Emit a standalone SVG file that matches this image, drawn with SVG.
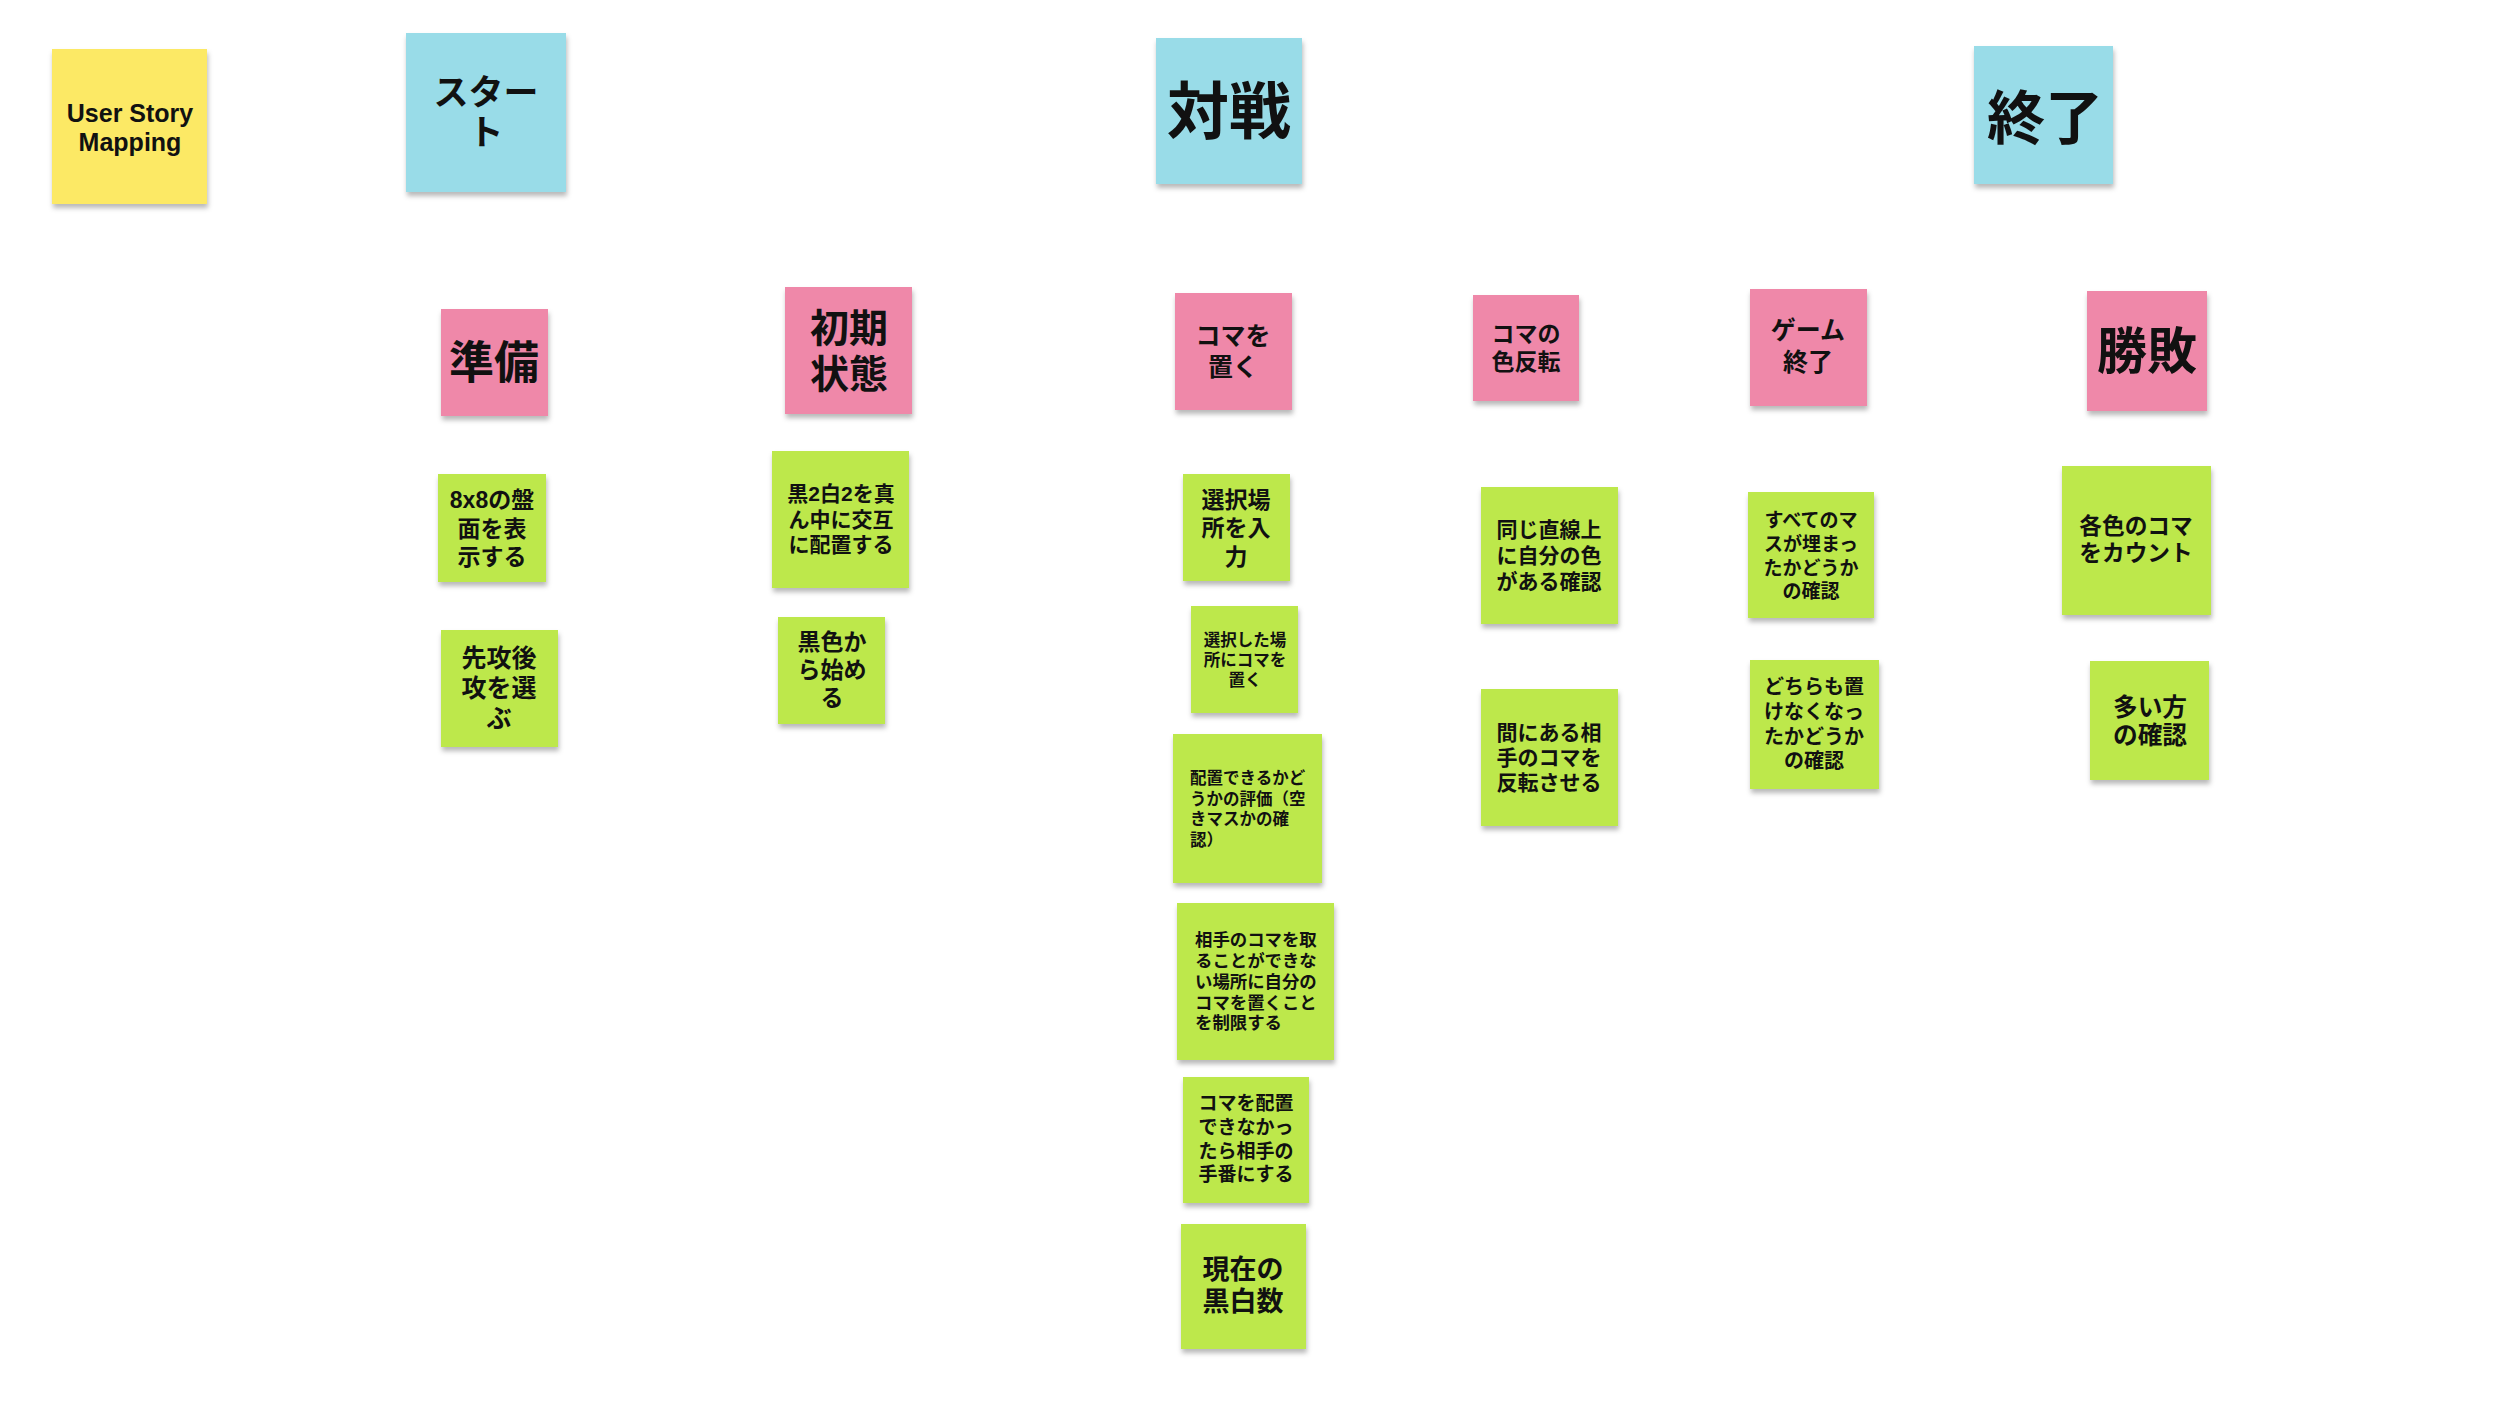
<svg xmlns="http://www.w3.org/2000/svg" width="2496" height="1414" viewBox="0 0 2496 1414">
<defs>
<filter id="sh" x="-10%" y="-10%" width="125%" height="130%">
<feDropShadow dx="1" dy="4" stdDeviation="2.5" flood-color="#000" flood-opacity="0.28"/>
</filter>
<style>
.y{fill:#FCE965;filter:url(#sh)}
.b{fill:#99DCE8;filter:url(#sh)}
.p{fill:#EF88A9;filter:url(#sh)}
.g{fill:#BDE84C;filter:url(#sh)}
text{font-family:"Liberation Sans","Noto Sans CJK JP",sans-serif;font-weight:700;fill:#111;text-anchor:middle;dominant-baseline:central}
.l{text-anchor:start}
</style>
</defs>
<rect width="2496" height="1414" fill="#fff"/>
<g id="connectors"/>

<g id="usm">
<rect class="y" x="52" y="49" width="155" height="155"/>
<text x="130" y="113" font-size="25">User Story</text>
<text x="130" y="142" font-size="25">Mapping</text>
</g>

<g id="start">
<rect class="b" x="406" y="33" width="160" height="159"/>
<text x="486" y="92" font-size="35">スター</text>
<text x="486" y="132" font-size="35">ト</text>
</g>

<g id="taisen">
<rect class="b" x="1156" y="38" width="146" height="146"/>
<text x="1229" y="112" font-size="62">対戦</text>
</g>

<g id="shuryo">
<rect class="b" x="1974" y="46" width="139" height="138"/>
<text x="2045" y="118" font-size="58">終了</text>
</g>

<g id="junbi">
<rect class="p" x="441" y="309" width="107" height="107"/>
<text x="494" y="363" font-size="45">準備</text>
</g>

<g id="shoki">
<rect class="p" x="785" y="287" width="127" height="127"/>
<text x="849" y="328" font-size="39">初期</text>
<text x="849" y="374" font-size="39">状態</text>
</g>

<g id="koma-oku">
<rect class="p" x="1175" y="293" width="117" height="117"/>
<text x="1233" y="336" font-size="25">コマを</text>
<text x="1233" y="367" font-size="25">置く</text>
</g>

<g id="iro-hanten">
<rect class="p" x="1473" y="295" width="106" height="106"/>
<text x="1526" y="334" font-size="23">コマの</text>
<text x="1526" y="362" font-size="23">色反転</text>
</g>

<g id="game-end">
<rect class="p" x="1750" y="289" width="117" height="117"/>
<text x="1808" y="330" font-size="25">ゲーム</text>
<text x="1808" y="362" font-size="25">終了</text>
</g>

<g id="shohai">
<rect class="p" x="2087" y="291" width="120" height="120"/>
<text x="2147" y="352" font-size="50">勝敗</text>
</g>

<g id="g-board">
<rect class="g" x="438" y="474" width="108" height="108"/>
<text x="492" y="500" font-size="23">8x8の盤</text>
<text x="492" y="529" font-size="23">面を表</text>
<text x="492" y="557" font-size="23">示する</text>
</g>

<g id="g-order">
<rect class="g" x="441" y="630" width="117" height="117"/>
<text x="499" y="658" font-size="25">先攻後</text>
<text x="499" y="688" font-size="25">攻を選</text>
<text x="499" y="718" font-size="25">ぶ</text>
</g>

<g id="g-initial">
<rect class="g" x="772" y="451" width="137" height="137"/>
<text x="841" y="493" font-size="21">黒2白2を真</text>
<text x="841" y="519" font-size="21">ん中に交互</text>
<text x="841" y="544" font-size="21">に配置する</text>
</g>

<g id="g-black-first">
<rect class="g" x="778" y="617" width="107" height="107"/>
<text x="832" y="642" font-size="23">黒色か</text>
<text x="832" y="670" font-size="23">ら始め</text>
<text x="832" y="698" font-size="23">る</text>
</g>

<g id="g-input">
<rect class="g" x="1183" y="474" width="107" height="107"/>
<text x="1236" y="500" font-size="23">選択場</text>
<text x="1236" y="528" font-size="23">所を入</text>
<text x="1236" y="557" font-size="23">力</text>
</g>

<g id="g-place">
<rect class="g" x="1191" y="606" width="107" height="107"/>
<text x="1245" y="640" font-size="16.5">選択した場</text>
<text x="1245" y="660" font-size="16.5">所にコマを</text>
<text x="1245" y="680" font-size="16.5">置く</text>
</g>

<g id="g-eval">
<rect class="g" x="1173" y="734" width="149" height="149"/>
<text class="l" x="1190" y="778" font-size="16.5">配置できるかど</text>
<text class="l" x="1190" y="798.5" font-size="16.5">うかの評価（空</text>
<text class="l" x="1190" y="819" font-size="16.5">きマスかの確</text>
<text class="l" x="1190" y="839.5" font-size="16.5">認）</text>
</g>

<g id="g-restrict">
<rect class="g" x="1177" y="903" width="157" height="157"/>
<text class="l" x="1195" y="940" font-size="17.4">相手のコマを取</text>
<text class="l" x="1195" y="961" font-size="17.4">ることができな</text>
<text class="l" x="1195" y="982" font-size="17.4">い場所に自分の</text>
<text class="l" x="1195" y="1003" font-size="17.4">コマを置くこと</text>
<text class="l" x="1195" y="1023" font-size="17.4">を制限する</text>
</g>

<g id="g-pass">
<rect class="g" x="1183" y="1077" width="126" height="126"/>
<text x="1246" y="1103" font-size="19">コマを配置</text>
<text x="1246" y="1127" font-size="19">できなかっ</text>
<text x="1246" y="1151" font-size="19">たら相手の</text>
<text x="1246" y="1174" font-size="19">手番にする</text>
</g>

<g id="g-count-now">
<rect class="g" x="1181" y="1224" width="125" height="125"/>
<text x="1243" y="1270" font-size="27">現在の</text>
<text x="1243" y="1302" font-size="27">黒白数</text>
</g>

<g id="g-line">
<rect class="g" x="1481" y="487" width="137" height="137"/>
<text x="1549" y="529" font-size="21">同じ直線上</text>
<text x="1549" y="555" font-size="21">に自分の色</text>
<text x="1549" y="581" font-size="21">がある確認</text>
</g>

<g id="g-flip">
<rect class="g" x="1481" y="689" width="137" height="137"/>
<text x="1549" y="732" font-size="21">間にある相</text>
<text x="1549" y="757" font-size="21">手のコマを</text>
<text x="1549" y="782" font-size="21">反転させる</text>
</g>

<g id="g-full">
<rect class="g" x="1748" y="492" width="126" height="126"/>
<text x="1811" y="520" font-size="19">すべてのマ</text>
<text x="1811" y="544" font-size="19">スが埋まっ</text>
<text x="1811" y="568" font-size="19">たかどうか</text>
<text x="1811" y="591" font-size="19">の確認</text>
</g>

<g id="g-nomove">
<rect class="g" x="1750" y="660" width="129" height="129"/>
<text x="1814" y="687" font-size="20">どちらも置</text>
<text x="1814" y="712" font-size="20">けなくなっ</text>
<text x="1814" y="737" font-size="20">たかどうか</text>
<text x="1814" y="761" font-size="20">の確認</text>
</g>

<g id="g-count">
<rect class="g" x="2062" y="466" width="149" height="149"/>
<text x="2136" y="526" font-size="22.7">各色のコマ</text>
<text x="2136" y="553" font-size="22.7">をカウント</text>
</g>

<g id="g-more">
<rect class="g" x="2090" y="661" width="119" height="119"/>
<text x="2150" y="707" font-size="24.7">多い方</text>
<text x="2150" y="735" font-size="24.7">の確認</text>
</g>
</svg>
